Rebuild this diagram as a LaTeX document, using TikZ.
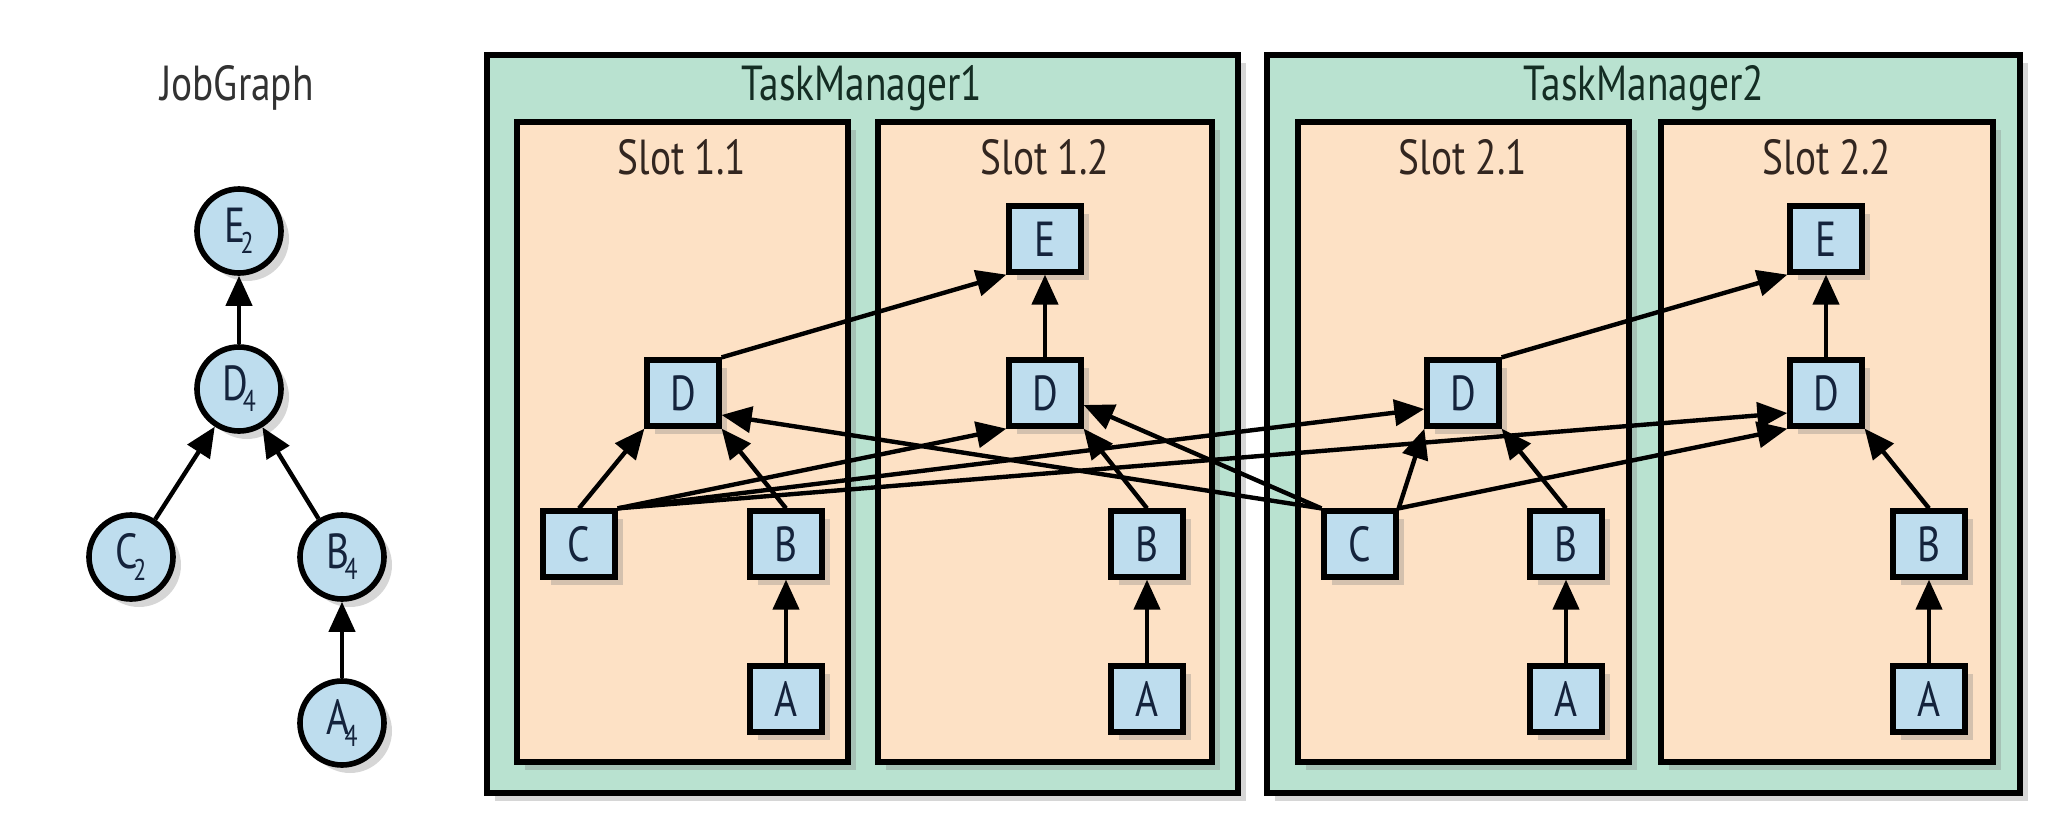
\documentclass[tikz,border=0pt]{standalone}
\usepackage{fontspec}
\setmainfont[FakeStretch=0.8]{PT Sans}
\usepackage{tikz}
\usetikzlibrary{arrows.meta,shadows}
\usepackage{xcolor}
\definecolor{tmgreen}{RGB}{185,226,208}
\definecolor{slotpeach}{RGB}{253,225,197}
\definecolor{taskblue}{RGB}{190,221,238}
\definecolor{tmtext}{RGB}{20,45,35}
\definecolor{slottext}{RGB}{50,38,32}
\definecolor{tasktext}{RGB}{20,35,60}
\definecolor{jgtext}{RGB}{50,50,50}
\newcommand{\titlefont}{\fontsize{14}{16}\selectfont}
\newcommand{\taskfont}{\fontsize{14}{16}\selectfont}
\newcommand{\opsub}[1]{\kern-0.1em\raisebox{-0.45ex}{\fontsize{8.5}{9}\selectfont #1}}
\tikzset{softshadow/.style={drop shadow={shadow xshift=0.08cm,shadow yshift=-0.08cm,opacity=0.32}}}
\tikzstyle{arrow} = [line width=1.25pt,-{Triangle[length=0.3cm,width=0.26cm]}]
\tikzstyle{task} = [draw=black, line width=1.5pt, fill=taskblue, minimum width=0.72cm, minimum height=0.66cm, inner sep=0pt, font=\taskfont, text=tasktext, softshadow]
\tikzstyle{op} = [circle, draw=black, line width=1.6pt, fill=taskblue, minimum size=0.84cm, inner sep=0pt, font=\taskfont, text=tasktext, softshadow]
\tikzstyle{tmbox} = [draw=black, line width=1.8pt, fill=tmgreen, softshadow]
\tikzstyle{slotbox} = [draw=black, line width=1.5pt, fill=slotpeach, softshadow]

\begin{document}
\begin{tikzpicture}
\useasboundingbox (0,0) rectangle (20.6,-8.34);

% JobGraph
\node[font=\titlefont, text=jgtext] (jg) at (2.37,-0.88) {JobGraph};
\node[op] (E2) at (2.39,-2.31) {E\opsub{2}};
\node[op] (D4) at (2.39,-3.89) {D\opsub{4}};
\node[op] (C2) at (1.31,-5.57) {C\opsub{2}};
\node[op] (B4) at (3.42,-5.57) {B\opsub{4}};
\node[op] (A4) at (3.42,-7.23) {A\opsub{4}};
\draw[arrow] (D4) -- (E2);
\draw[arrow] (C2) -- (D4);
\draw[arrow] (B4) -- (D4);
\draw[arrow] (A4) -- (B4);

% Task managers
\draw[tmbox] (4.87,-0.55) rectangle (12.38,-7.93);
\draw[tmbox] (12.67,-0.55) rectangle (20.20,-7.93);
\node[font=\titlefont, text=tmtext] (tm1) at (8.62,-0.88) {TaskManager1};
\node[font=\titlefont, text=tmtext] (tm2) at (16.44,-0.88) {TaskManager2};

% Slots
\draw[slotbox] (5.17,-1.22) rectangle (8.48,-7.62);
\draw[slotbox] (8.78,-1.22) rectangle (12.12,-7.62);
\draw[slotbox] (12.98,-1.22) rectangle (16.29,-7.62);
\draw[slotbox] (16.61,-1.22) rectangle (19.93,-7.62);
\node[font=\titlefont, text=slottext] (s11) at (6.82,-1.57) {Slot 1.1};
\node[font=\titlefont, text=slottext] (s12) at (10.45,-1.57) {Slot 1.2};
\node[font=\titlefont, text=slottext] (s21) at (14.63,-1.57) {Slot 2.1};
\node[font=\titlefont, text=slottext] (s22) at (18.27,-1.57) {Slot 2.2};

% Slot 1.1
\node[task] (D11) at (6.83,-3.93) {D};
\node[task] (C11) at (5.79,-5.44) {C};
\node[task] (B11) at (7.86,-5.44) {B};
\node[task] (A11) at (7.86,-6.99) {A};
% Slot 1.2
\node[task] (E12) at (10.45,-2.39) {E};
\node[task] (D12) at (10.45,-3.93) {D};
\node[task] (B12) at (11.47,-5.44) {B};
\node[task] (A12) at (11.47,-6.99) {A};
% Slot 2.1
\node[task] (D21) at (14.63,-3.93) {D};
\node[task] (C21) at (13.60,-5.44) {C};
\node[task] (B21) at (15.66,-5.44) {B};
\node[task] (A21) at (15.66,-6.99) {A};
% Slot 2.2
\node[task] (E22) at (18.26,-2.39) {E};
\node[task] (D22) at (18.26,-3.93) {D};
\node[task] (B22) at (19.29,-5.44) {B};
\node[task] (A22) at (19.29,-6.99) {A};

% local edges
\foreach \s in {11,12,21,22}
  \draw[arrow] (A\s) -- (B\s);
\draw[arrow] (C11.north) -- (D11.south west);
\draw[arrow] (B11.north) -- (D11.south east);
\draw[arrow] (B12.north) -- (D12.south east);
\draw[arrow] (C21.north east) -- (D21.south west);
\draw[arrow] (B21.north) -- (D21.south east);
\draw[arrow] (B22.north) -- (D22.south east);
\draw[arrow] (D12) -- (E12);
\draw[arrow] (D22) -- (E22);
\draw[arrow] (D11.north east) -- (E12.south west);
\draw[arrow] (D21.north east) -- (E22.south west);

% shuffle from C to every D
\draw[arrow] (C11.north east) -- (D12.south west);
\draw[arrow] (C11.north east) -- ([yshift=-0.16cm]D21.west);
\draw[arrow] (C11.north east) -- ([yshift=-0.2cm]D22.west);
\draw[arrow] (C21.north west) -- ([yshift=-0.22cm]D11.east);
\draw[arrow] (C21.north west) -- ([yshift=-0.12cm]D12.east);
\draw[arrow] (C21.north east) -- (D22.south west);
\end{tikzpicture}
\end{document}
